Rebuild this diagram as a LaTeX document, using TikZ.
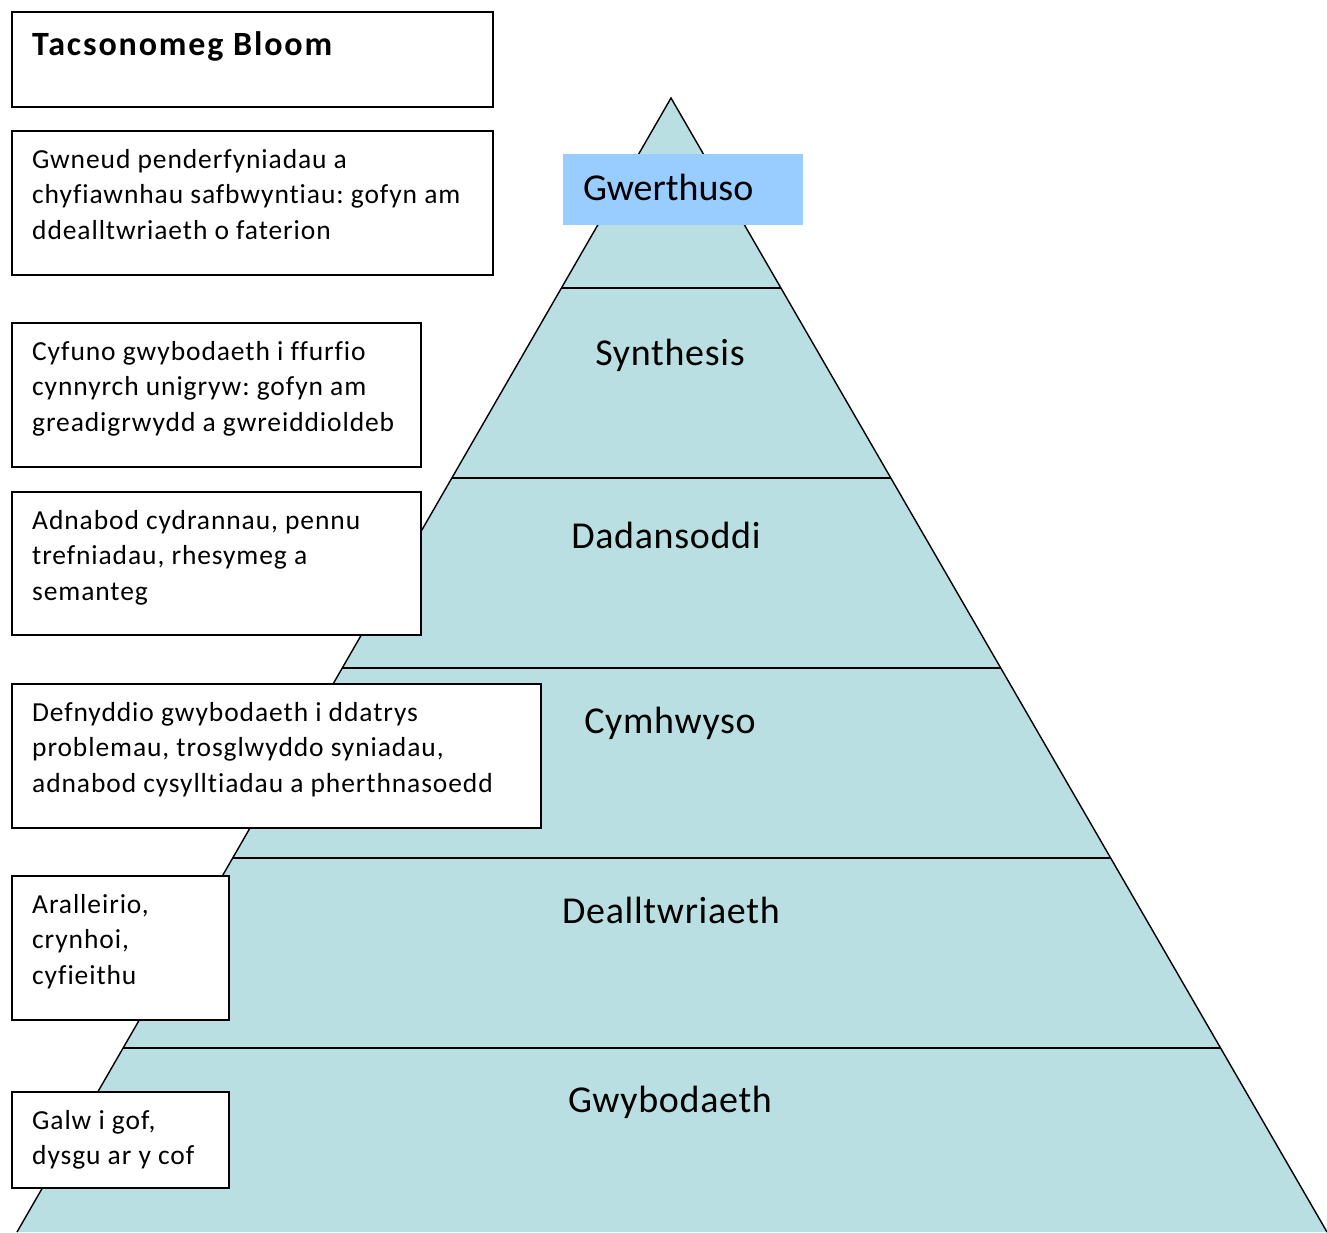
\documentclass[tikz,border=0pt]{standalone}
\usepackage{fontspec}
\setmainfont{Carlito}[Ligatures=NoCommon]
\newfontfamily\bodyfont{Carlito}[LetterSpace=3.3,Ligatures=NoCommon]
\newfontfamily\titlefont{Carlito}[LetterSpace=5.5,Ligatures=NoCommon]
\newfontfamily\labelfont{Carlito}[LetterSpace=1.8,Ligatures=NoCommon]
\usetikzlibrary{calc}
\definecolor{pyr}{HTML}{B9DFE2}
\definecolor{gwbox}{HTML}{99CCFF}
\newcommand\bodystrut{\rule{0pt}{22pt}}
\newcommand\titlestrut{\rule{0pt}{27pt}}
\frenchspacing
\begin{document}
\begin{tikzpicture}[x=1pt,y=-1pt,
  infobox/.style={draw=black,line width=1.6pt,fill=white,anchor=north west,inner sep=0pt},
  infotext/.style={anchor=north west,inner sep=0pt,align=left,font=\bodyfont\fontsize{27.5}{35.5}\selectfont},
  levellabel/.style={anchor=base,inner sep=0pt,font=\labelfont\fontsize{38}{46}\selectfont},
  divider/.style={line width=1.4pt,black}]
\useasboundingbox (0,0) rectangle (1327,1232);
% pyramid
\coordinate (apex) at (671,98);
\coordinate (bl) at (17,1232);
\coordinate (br) at (1327,1232);
\fill[pyr] (apex) -- (bl) -- (br) -- cycle;
\draw[line width=1.4pt] (bl) -- (apex) -- (br);
\foreach \i/\t in {1/0.16755,2/0.33510,3/0.50265,4/0.67019,5/0.83774}{
  \coordinate (L\i) at ($(apex)!\t!(bl)$);
  \coordinate (R\i) at ($(apex)!\t!(br)$);
  \draw[divider] (L\i) -- (R\i);
}
% top label box
\node[fill=gwbox,anchor=north west,minimum width=240pt,minimum height=71pt,inner sep=0pt] (gwb) at (563,154) {};
\node[anchor=base west,inner sep=0pt,font=\fontsize{38}{46}\selectfont] (gw) at (583,200) {Gwerthuso};
% level labels
\node[levellabel] (syn) at (670,365) {Synthesis};
\node[levellabel] (dad) at (666,548) {Dadansoddi};
\node[levellabel] (cym) at (670,733) {Cymhwyso};
\node[levellabel] (dea) at (671,923) {Dealltwriaeth};
\node[levellabel] (gwy) at (670,1112) {Gwybodaeth};
% left boxes
\node[infobox,minimum width=481pt,minimum height=95pt] (b1) at (11,11) {};
\node[anchor=north west,inner sep=0pt,font=\titlefont\fontsize{34}{40}\selectfont\bfseries] (t1) at (32,28) {\titlestrut Tacsonomeg Bloom};
\node[infobox,minimum width=481pt,minimum height=144pt] (b2) at (11,130) {};
\node[infotext] (t2) at (32,146) {\bodystrut Gwneud penderfyniadau a\\chyfiawnhau safbwyntiau: gofyn am\\ddealltwriaeth o faterion};
\node[infobox,minimum width=409pt,minimum height=144pt] (b3) at (11,322) {};
\node[infotext] (t3) at (32,338) {\bodystrut Cyfuno gwybodaeth i ffurfio\\cynnyrch unigryw: gofyn am\\greadigrwydd a gwreiddioldeb};
\node[infobox,minimum width=409pt,minimum height=143pt] (b4) at (11,491) {};
\node[infotext] (t4) at (32,507) {\bodystrut Adnabod cydrannau, pennu\\trefniadau, rhesymeg a\\semanteg};
\node[infobox,minimum width=529pt,minimum height=144pt] (b5) at (11,683) {};
\node[infotext] (t5) at (32,699) {\bodystrut Defnyddio gwybodaeth i ddatrys\\problemau, trosglwyddo syniadau,\\adnabod cysylltiadau a pherthnasoedd};
\node[infobox,minimum width=217pt,minimum height=144pt] (b6) at (11,875) {};
\node[infotext] (t6) at (32,891) {\bodystrut Aralleirio,\\crynhoi,\\cyfieithu};
\node[infobox,minimum width=217pt,minimum height=96pt] (b7) at (11,1091) {};
\node[infotext] (t7) at (32,1107) {\bodystrut Galw i gof,\\dysgu ar y cof};
\end{tikzpicture}
\end{document}
